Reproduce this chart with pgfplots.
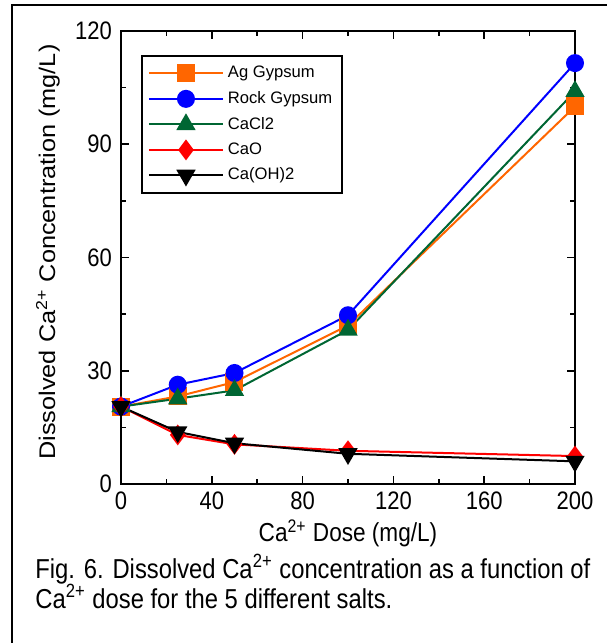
\documentclass[border=0pt]{standalone}
\usepackage{fontspec}
\setmainfont{Liberation Sans}
\usepackage{pgfplots}
\pgfplotsset{compat=1.18}

\definecolor{agorange}{RGB}{255,102,0}
\definecolor{rockblue}{RGB}{0,0,255}
\definecolor{clgreen}{RGB}{0,102,51}
\definecolor{caored}{RGB}{255,0,0}

\begin{document}
\begin{tikzpicture}
% picture bounds (1 px of the reference = 0.5pt)
\useasboundingbox (-60.5pt,-79.5pt) rectangle (242.5pt,242pt);
\draw[line width=1pt] (-54.5pt,-90pt) -- (-54.5pt,239.5pt) -- (260pt,239.5pt);

\begin{axis}[
  scale only axis,
  width=227pt, height=226.5pt,
  xmin=0, xmax=200, ymin=0, ymax=120,
  xtick={0,40,...,200}, ytick={0,30,...,120},
  minor x tick num=1, minor y tick num=1,
  tick align=inside,
  major tick length=4pt, minor tick length=2.5pt,
  axis line style={line width=1pt},
  every tick/.style={black, line width=0.8pt},
  /pgf/number format/assume math mode=true,
  tick label style={font=\fontsize{11}{12}\selectfont, yscale=1.15},
  yticklabel style={xshift=-1pt},
  xlabel={Ca\textsuperscript{2+} Dose (mg/L)},
  ylabel={Dissolved Ca\textsuperscript{2+} Concentration (mg/L)},
  label style={font=\fontsize{11.3}{12}\selectfont},
  xlabel style={at={(axis description cs:0.5,-0.108)}, anchor=center, yscale=1.15},
  ylabel style={at={(axis description cs:-0.161,0.512)}, anchor=center, xscale=1.12},
  every axis plot/.append style={line width=1pt},
  legend style={
    at={(axis cs:8.8,113.6)}, anchor=north west,
    draw=black, line width=1pt,
    font=\fontsize{8.3}{9.5}\selectfont,
    row sep=1.3pt, inner xsep=3pt, inner ysep=3pt,
    cells={anchor=west},
  },
  legend image code/.code={
    \draw[mark repeat=2, mark phase=2, #1] plot coordinates {(0pt,0pt) (18.5pt,0pt) (37pt,0pt)};
  },
]
\addplot[agorange, mark=square*, mark size=4pt, mark options={solid}] coordinates {
  (0,20.5)(25,23.2)(50,27.0)(100,42.0)(200,100.0)
};
\addlegendentry{Ag Gypsum}
\addplot[rockblue, mark=*, mark size=4pt] coordinates {
  (0,20.5)(25,26.3)(50,29.4)(100,44.7)(200,111.5)
};
\addlegendentry{Rock Gypsum}
\addplot[clgreen, mark=triangle*, mark size=4.6pt] coordinates {
  (0,20.5)(25,22.6)(50,24.8)(100,40.8)(200,104.0)
};
\addlegendentry{CaCl2}
\addplot[caored, mark=diamond*, mark size=4.4pt] coordinates {
  (0,20.5)(25,13.0)(50,10.5)(100,8.8)(200,7.4)
};
\addlegendentry{CaO}
\addplot[black, mark=triangle*, mark size=4.6pt, mark options={rotate=180}] coordinates {
  (0,20.5)(25,13.8)(50,10.8)(100,8.0)(200,6.0)
};
\addlegendentry{Ca(OH)2}
\end{axis}

\node[anchor=base west, font=\fontsize{11.9}{12}\selectfont, inner sep=0pt, yscale=1.15] at (-43pt,-47pt)
  {Fig. 6. Dissolved Ca\textsuperscript{2+} concentration as a function of};
\node[anchor=base west, font=\fontsize{11.9}{12}\selectfont, inner sep=0pt, yscale=1.15] at (-43pt,-62pt)
  {Ca\textsuperscript{2+} dose for the 5 different salts.};
\end{tikzpicture}
\end{document}
